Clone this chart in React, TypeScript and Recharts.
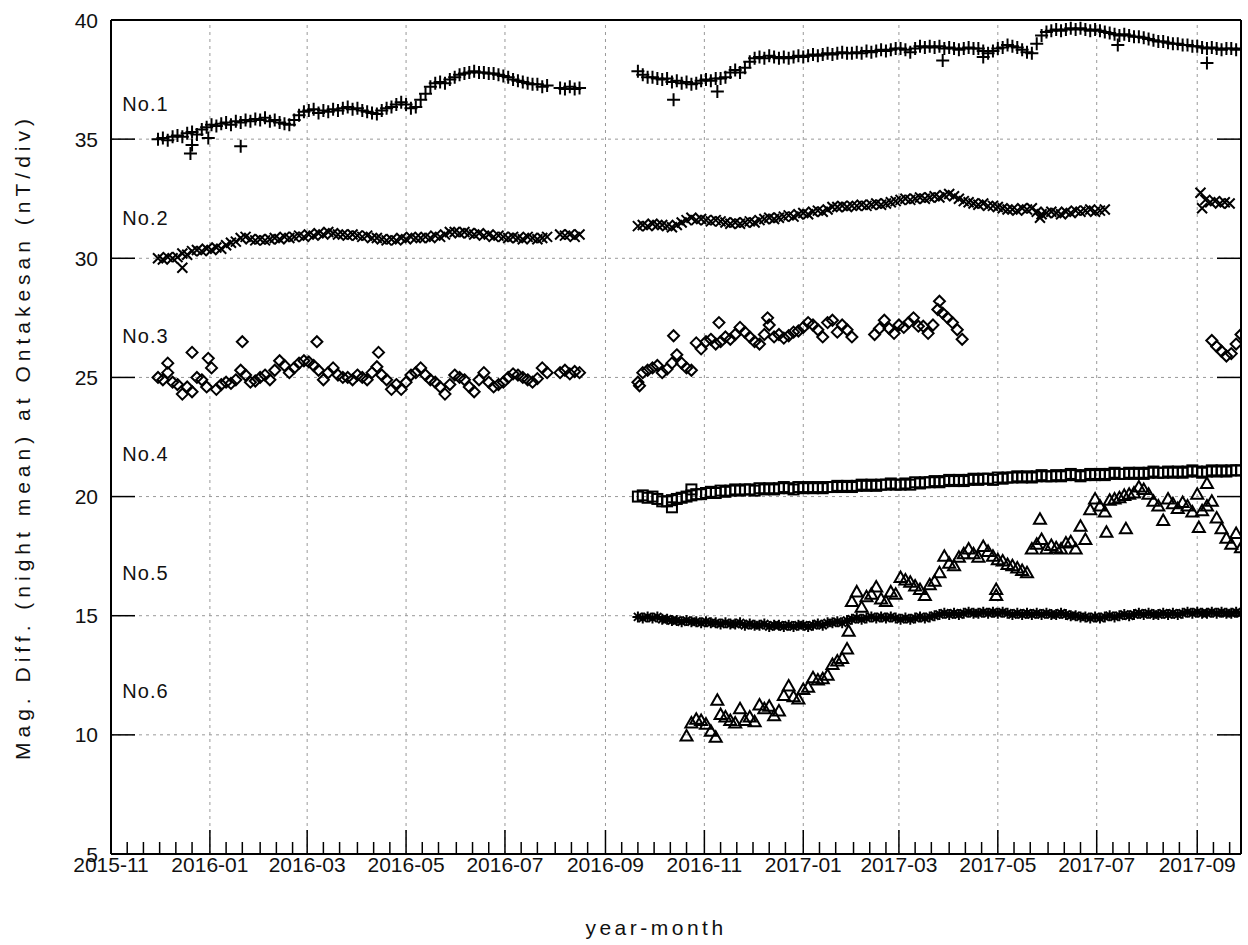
import { ScatterChart, Scatter, XAxis, YAxis, ReferenceLine, ReferenceDot } from 'recharts'

// night-mean magnetic differences, every 3 days
const EPOCH = Date.UTC(2015, 10, 1)
const dayOf = (s: string) => {
  const [y, m, d] = s.split('-').map(Number)
  return Math.round((Date.UTC(y, m - 1, d || 1) - EPOCH) / 86400000)
}
const STEP = 3
const X_END = '2017-09-28'

const xMajorLabels = ['2015-11', '2016-01', '2016-03', '2016-05', '2016-07', '2016-09', '2016-11', '2017-01', '2017-03', '2017-05', '2017-07', '2017-09']
const yTicks = [5, 10, 15, 20, 25, 30, 35, 40]
const yGrid = [10, 15, 20, 25, 30, 35]

const seriesLabels = ['No.1', 'No.2', 'No.3', 'No.4', 'No.5', 'No.6']
const seriesLabelY = [36.5, 31.7, 26.75, 21.8, 16.8, 11.85]
const LABEL_DATE = '2015-11-08'

// No.1
const no1a = [
  35.0, 35.05, 34.95, 35.1, 35.15, 35.1, 35.25, 35.3, 35.2, 35.4,
  35.5, 35.6, 35.55, 35.65, 35.7, 35.6, 35.75, 35.7, 35.8, 35.75,
  35.85, 35.8, 35.9, 35.75, 35.8, 35.7, 35.65, 35.6, 35.8, 36.0,
  36.15, 36.2, 36.25, 36.1, 36.2, 36.15, 36.25, 36.2, 36.3, 36.35,
  36.25, 36.3, 36.2, 36.15, 36.1, 36.05, 36.2, 36.3, 36.35, 36.45,
  36.55, 36.45, 36.3, 36.35, 36.65, 36.9, 37.2, 37.35, 37.4, 37.35,
  37.5, 37.6, 37.7, 37.75, 37.8, 37.85, 37.8, 37.8, 37.75, 37.75,
  37.7, 37.65, 37.6, 37.5, 37.45, 37.4, 37.35, 37.3, 37.3, 37.2,
  37.25,
]
const no1b = [37.15, 37.1, 37.2, 37.1, 37.15]
const no1c = [
  37.85, 37.7, 37.6, 37.6, 37.55, 37.5, 37.55, 37.4, 37.45, 37.35,
  37.4, 37.3, 37.35, 37.45, 37.5, 37.45, 37.55, 37.55, 37.6, 37.8,
  37.9, 37.8, 38.0, 38.25, 38.4, 38.45, 38.4, 38.5, 38.45, 38.4,
  38.45, 38.4, 38.45, 38.5, 38.45, 38.5, 38.55, 38.5, 38.55, 38.6,
  38.55, 38.6, 38.65, 38.6, 38.6, 38.65, 38.6, 38.7, 38.65, 38.7,
  38.75, 38.7, 38.75, 38.8, 38.8, 38.75, 38.65, 38.8, 38.9, 38.85,
  38.9, 38.85, 38.9, 38.8, 38.85, 38.8, 38.75, 38.8, 38.85, 38.8,
  38.8, 38.7, 38.6, 38.7, 38.8, 38.85, 38.95, 38.9, 38.85, 38.75,
  38.65, 38.6, 39.0, 39.35, 39.5, 39.55, 39.6, 39.55, 39.6, 39.65,
  39.6, 39.65, 39.6, 39.55, 39.6, 39.55, 39.5, 39.45, 39.4, 39.35,
  39.4, 39.35, 39.3, 39.3, 39.25, 39.2, 39.15, 39.1, 39.1, 39.05,
  39.0, 39.0, 38.95, 38.95, 38.9, 38.9, 38.85, 38.8, 38.85, 38.8,
  38.75, 38.8, 38.8, 38.75, 38.8,
]
const no1Out: [string, number][] = [
  ['2015-12-20', 34.4], ['2015-12-21', 34.75], ['2015-12-31', 35.05], ['2016-01-20', 34.7],
  ['2016-10-13', 36.65], ['2016-11-09', 37.0], ['2017-03-28', 38.3], ['2017-04-22', 38.45],
  ['2017-07-14', 38.95], ['2017-09-07', 38.2],
]

// No.2
const no2a = [
  30.0, 29.95, 30.05, 30.0, 30.05, 30.2, 30.15, 30.3, 30.35, 30.3,
  30.4, 30.35, 30.45, 30.4, 30.55, 30.65, 30.7, 30.85, 30.9, 30.8,
  30.75, 30.8, 30.75, 30.8, 30.85, 30.8, 30.9, 30.85, 30.9, 30.95,
  30.9, 31.0, 30.95, 31.05, 31.0, 31.1, 31.05, 31.0, 31.0, 30.95,
  31.0, 30.95, 30.9, 30.95, 30.85, 30.85, 30.8, 30.75, 30.8, 30.75,
  30.85, 30.8, 30.9, 30.85, 30.85, 30.9, 30.85, 30.95, 30.9, 31.0,
  31.1, 31.1, 31.05, 31.1, 31.05, 31.0, 31.05, 30.95, 31.0, 30.9,
  30.95, 30.9, 30.85, 30.9, 30.85, 30.8, 30.9, 30.85, 30.8, 30.85,
  30.9,
]
const no2b = [31.0, 30.95, 31.0, 30.9, 31.0]
const no2c = [
  31.35, 31.4, 31.35, 31.45, 31.4, 31.4, 31.35, 31.3, 31.4, 31.5,
  31.6, 31.7, 31.6, 31.65, 31.6, 31.55, 31.6, 31.55, 31.5, 31.45,
  31.5, 31.45, 31.5, 31.55, 31.5, 31.6, 31.65, 31.7, 31.65, 31.7,
  31.75, 31.8, 31.75, 31.85, 31.9, 31.85, 31.95, 32.0, 31.95, 32.05,
  32.15, 32.15, 32.2, 32.15, 32.2, 32.2, 32.25, 32.2, 32.25, 32.3,
  32.25, 32.3, 32.35, 32.4, 32.45, 32.5, 32.45, 32.5, 32.55, 32.5,
  32.55, 32.6, 32.55, 32.65, 32.7, 32.6, 32.5, 32.4, 32.35, 32.3,
  32.25, 32.3, 32.2, 32.2, 32.15, 32.1, 32.05, 32.05, 32.0, 32.1,
  32.05, 32.1, 31.95, 31.85, 31.9, 31.95, 31.9, 31.85, 31.95, 31.9,
  32.0, 31.95, 32.0, 32.05, 31.95, 32.0, 32.05,
]
const no2d = [32.75, 32.45, 32.35, 32.4, 32.3, 32.35, 32.3]
const no2Out: [string, number][] = [['2015-12-15', 29.6], ['2017-05-27', 31.7], ['2017-09-04', 32.1]]

// No.3
const no3a = [
  25.0, 24.9, 25.2, 24.8, 24.7, 24.3, 24.6, 24.4, 25.0, 24.9,
  24.6, 25.4, 24.5, 24.7, 24.8, 24.75, 24.9, 25.3, 25.1, 24.8,
  24.85, 25.0, 25.1, 24.9, 25.3, 25.7, 25.5, 25.2, 25.4, 25.6,
  25.7, 25.65, 25.5, 25.3, 24.9, 25.2, 25.4, 25.1, 25.0, 25.0,
  24.9, 25.1, 25.0, 24.9, 25.2, 25.45, 25.1, 24.9, 24.5, 24.7,
  24.5, 24.8, 25.1, 25.2, 25.4, 25.1, 24.9, 24.8, 24.6, 24.3,
  24.7, 25.1, 25.0, 24.9, 24.6, 24.4, 24.9, 25.2, 24.8, 24.6,
  24.7, 24.8, 25.0, 25.15, 25.1, 25.0, 24.9, 24.8, 24.95, 25.4,
  25.2,
]
const no3b = [25.2, 25.3, 25.15, 25.25, 25.2]
const no3c = [
  24.8, 25.2, 25.3, 25.4, 25.5, 25.2, 25.35, 25.6, 25.95, 25.6,
  25.4, 25.3, 26.45, 26.2, 26.5, 26.6, 26.4, 26.5, 26.7, 26.6,
  26.8, 27.1, 26.9, 26.7, 26.5, 26.4, 26.8, 27.2, 26.7, 26.8,
  26.65, 26.75, 26.9, 26.95, 27.1, 27.3, 27.2, 27.0, 26.7, 27.3,
  27.4, 26.9, 27.2, 27.0, 26.7,
]
const no3d = [26.8, 27.05, 27.4, 27.05, 26.85, 27.2, 27.1, 27.3, 27.5, 27.15, 27.15, 26.85, 27.2, 27.85, 27.7, 27.5, 27.3, 27.0, 26.6]
const no3e = [26.55, 26.3, 26.1, 25.9, 26.0, 26.4, 26.8]
const no3Out: [string, number][] = [
  ['2015-12-06', 25.6], ['2015-12-21', 26.05], ['2015-12-31', 25.8], ['2016-01-21', 26.5],
  ['2016-03-07', 26.5], ['2016-04-14', 26.05], ['2016-09-22', 24.65], ['2016-10-13', 26.75],
  ['2016-11-10', 27.3], ['2016-12-10', 27.5], ['2017-03-26', 28.2],
]

// No.4
const no4 = [
  20.0, 20.05, 19.95, 20.0, 19.9, 19.8, 19.8, 19.85, 19.9, 19.95,
  20.0, 20.05, 20.1, 20.1, 20.15, 20.2, 20.15, 20.25, 20.2, 20.25,
  20.3, 20.25, 20.3, 20.3, 20.25, 20.35, 20.3, 20.35, 20.3, 20.35,
  20.4, 20.35, 20.3, 20.4, 20.35, 20.4, 20.35, 20.4, 20.35, 20.4,
  20.4, 20.45, 20.4, 20.45, 20.4, 20.45, 20.5, 20.45, 20.5, 20.45,
  20.5, 20.5, 20.55, 20.5, 20.5, 20.55, 20.5, 20.6, 20.55, 20.6,
  20.6, 20.65, 20.6, 20.65, 20.7, 20.65, 20.7, 20.65, 20.7, 20.75,
  20.7, 20.75, 20.75, 20.7, 20.8, 20.75, 20.8, 20.8, 20.85, 20.8,
  20.85, 20.8, 20.85, 20.9, 20.85, 20.85, 20.9, 20.85, 20.9, 20.95,
  20.9, 20.85, 20.9, 20.95, 20.9, 20.95, 20.9, 20.95, 21.0, 20.95,
  20.95, 21.0, 20.95, 21.0, 20.95, 21.0, 21.05, 21.0, 21.0, 21.05,
  21.0, 21.05, 21.0, 21.05, 21.1, 21.05, 21.0, 21.05, 21.1, 21.05,
  21.1, 21.05, 21.1, 21.1, 21.1,
]
const no4Out: [string, number][] = [['2016-10-12', 19.55], ['2016-10-24', 20.3]]

// No.5
const no5 = [
  14.95, 14.9, 14.95, 14.9, 14.95, 14.85, 14.85, 14.8, 14.8, 14.75,
  14.8, 14.75, 14.75, 14.7, 14.75, 14.7, 14.7, 14.65, 14.7, 14.65,
  14.65, 14.7, 14.6, 14.65, 14.6, 14.6, 14.65, 14.55, 14.6, 14.6,
  14.55, 14.6, 14.55, 14.6, 14.6, 14.55, 14.6, 14.65, 14.6, 14.7,
  14.7, 14.75, 14.7, 14.8, 14.85, 14.9, 14.85, 14.9, 14.95, 14.9,
  14.95, 14.9, 14.95, 14.9, 14.85, 14.9, 14.85, 14.9, 14.95, 14.9,
  14.95, 15.0, 15.05, 15.1, 15.05, 15.1, 15.05, 15.1, 15.15, 15.1,
  15.1, 15.15, 15.1, 15.15, 15.1, 15.15, 15.1, 15.05, 15.1, 15.05,
  15.1, 15.05, 15.1, 15.05, 15.1, 15.05, 15.05, 15.1, 15.05, 15.0,
  15.0, 14.95, 14.95, 14.9, 14.95, 14.9, 14.95, 15.0, 14.95, 15.0,
  15.05, 15.0, 15.05, 15.1, 15.05, 15.1, 15.05, 15.05, 15.1, 15.05,
  15.1, 15.05, 15.1, 15.15, 15.1, 15.15, 15.1, 15.1, 15.15, 15.1,
  15.15, 15.1, 15.1, 15.15, 15.1,
]

// No.6
const no6 = [
  9.95, 10.5, 10.65, 10.6, 10.45, 10.15, 9.9, 10.85, 10.75, 10.6,
  10.5, 11.1, 10.6, 10.75, 10.55, 11.25, 11.1, 11.2, 10.8, 11.0,
  11.65, 12.05, 11.6, 11.5, 11.9, 12.0, 12.4, 12.3, 12.35, 12.5,
  12.95, 13.1, 13.2, 13.6, 15.6, 16.0, 15.35, 15.8, 15.9, 16.2,
  15.7, 15.6, 16.0, 15.9, 16.6, 16.5, 16.4, 16.25, 16.1, 15.85,
  16.3, 16.45, 16.8, 17.5, 17.2, 17.1, 17.45, 17.6, 17.8, 17.6,
  17.45, 17.9, 17.7, 17.5, 17.35, 17.3, 17.15, 17.1, 17.0, 16.9,
  16.8, 17.8, 18.0, 18.2, 17.8, 17.95, 17.85, 17.8, 18.05, 18.1,
  17.8, 18.75, 18.2, 19.45, 19.9, 19.6, 19.35, 19.85, 19.9, 19.95,
  20.05, 20.1, 20.15, 20.4, 20.3, 20.1, 19.8, 19.6, 19.0, 19.9,
  19.7, 19.5, 19.75, 19.6, 19.35, 20.1, 19.4, 19.6, 19.8, 19.1,
  18.65, 18.25, 18.0, 18.45, 17.85,
]
const no6Out: [string, number][] = [
  ['2016-11-09', 11.45], ['2017-01-29', 14.35], ['2017-04-30', 16.1], ['2017-04-30', 15.85],
  ['2017-05-27', 19.05], ['2017-07-07', 18.5], ['2017-07-19', 18.65], ['2017-09-02', 18.7],
  ['2017-09-07', 20.55],
]

type Seg = [string, number[]]
type Pt = { t: number; v: number }

function build(segs: Seg[], outliers: [string, number][] = []): Pt[] {
  const pts: Pt[] = []
  segs.forEach(([start, vals]) => {
    const d0 = dayOf(start)
    vals.forEach((v, i) => pts.push({ t: d0 + i * STEP, v }))
  })
  outliers.forEach(([d, v]) => pts.push({ t: dayOf(d), v }))
  return pts
}

const data1 = build([['2015-11-30', no1a], ['2016-08-04', no1b], ['2016-09-21', no1c]], no1Out)
const data2 = build([['2015-11-30', no2a], ['2016-08-04', no2b], ['2016-09-21', no2c], ['2017-09-03', no2d]], no2Out)
const data3 = build([['2015-11-30', no3a], ['2016-08-04', no3b], ['2016-09-21', no3c], ['2017-02-14', no3d], ['2017-09-10', no3e]], no3Out)
const data4 = build([['2016-09-21', no4]], no4Out)
const data5 = build([['2016-09-21', no5]])
const data6 = build([['2016-10-21', no6]], no6Out)

const xEnd = dayOf(X_END)
const majorByDay = new Map(xMajorLabels.map(m => [dayOf(m), m]))

// major ticks every 2 months, minor ticks on the 1st/11th/21st
const xTicks: number[] = []
for (let y = 2015, m = 11; y * 12 + m <= 2017 * 12 + 9; m === 12 ? (y++, (m = 1)) : m++) {
  for (const d of [1, 11, 21]) {
    const t = dayOf(`${y}-${m}-${d}`)
    if (t <= xEnd) xTicks.push(t)
  }
}

const FONT = '"Liberation Sans", Arial, sans-serif'
const TXT = '#111'
const MAJOR = 24
const MINOR = 12

function BottomTick({ x, y, payload }: any) {
  const label = majorByDay.get(payload.value)
  return (
    <g>
      <line x1={x} y1={y} x2={x} y2={y - (label ? MAJOR : MINOR)} stroke="#000" strokeWidth={1.5} />
      {label && (
        <text x={x} y={y + 18} textAnchor="middle" fontFamily={FONT} fontSize={21} fill={TXT}>
          {label}
        </text>
      )}
    </g>
  )
}

function TopTick({ x, y, payload }: any) {
  const major = majorByDay.has(payload.value)
  return <line x1={x} y1={y} x2={x} y2={y + (major ? MAJOR : MINOR)} stroke="#000" strokeWidth={1.5} />
}

function LeftTick({ x, y, payload }: any) {
  return (
    <g>
      <line x1={x} y1={y} x2={x + MAJOR} y2={y} stroke="#000" strokeWidth={1.5} />
      <text x={x - 13} y={y} dy="0.36em" textAnchor="end" fontFamily={FONT} fontSize={21} fill={TXT}>
        {payload.value}
      </text>
    </g>
  )
}

function RightTick({ x, y }: any) {
  return <line x1={x} y1={y} x2={x - MAJOR} y2={y} stroke="#000" strokeWidth={1.5} />
}

function XTitle({ viewBox }: any) {
  return (
    <text x={viewBox.x + viewBox.width / 2 - 20} y={viewBox.y + 81} textAnchor="middle" fontFamily={FONT} fontSize={21} letterSpacing={3.5} fill={TXT}>
      year-month
    </text>
  )
}

function YTitle({ viewBox }: any) {
  const cx = viewBox.x + 22
  const cy = viewBox.y + viewBox.height / 2
  return (
    <text x={cx} y={cy} transform={`rotate(-90 ${cx} ${cy})`} textAnchor="middle" dominantBaseline="central" fontFamily={FONT} fontSize={21} letterSpacing={5} fill={TXT}>
      Mag. Diff. (night mean) at Ontakesan (nT/div)
    </text>
  )
}

const ink = { stroke: '#000', strokeWidth: 2, fill: 'none' }
const Plus = ({ cx, cy }: any) => <path d={`M${cx - 6.5} ${cy}H${cx + 6.5}M${cx} ${cy - 6.5}V${cy + 6.5}`} {...ink} />
const Cross = ({ cx, cy }: any) => (
  <path d={`M${cx - 5} ${cy - 5}L${cx + 5} ${cy + 5}M${cx - 5} ${cy + 5}L${cx + 5} ${cy - 5}`} {...ink} />
)
const Diamond = ({ cx, cy }: any) => <path d={`M${cx} ${cy - 5.5}L${cx + 5.5} ${cy}L${cx} ${cy + 5.5}L${cx - 5.5} ${cy}Z`} {...ink} />
const Square = ({ cx, cy }: any) => <rect x={cx - 5} y={cy - 5} width={10} height={10} {...ink} />
const Star = ({ cx, cy }: any) => (
  <path
    d={`M${cx - 5.5} ${cy}H${cx + 5.5}M${cx} ${cy - 5.5}V${cy + 5.5}M${cx - 4} ${cy - 4}L${cx + 4} ${cy + 4}M${cx - 4} ${cy + 4}L${cx + 4} ${cy - 4}`}
    {...ink}
  />
)
const Triangle = ({ cx, cy }: any) => <path d={`M${cx} ${cy - 6}L${cx + 6} ${cy + 4.5}L${cx - 6} ${cy + 4.5}Z`} {...ink} />

const grid = { stroke: '#999', strokeDasharray: '3 4', strokeWidth: 1 }
const border = { stroke: '#000', strokeWidth: 2 }

export default function App() {
  return (
    <div style={{ position: 'absolute', left: 0, top: 0, width: 1248, height: 945, background: '#fff' }}>
      <ScatterChart width={1248} height={945} margin={{ top: 0, right: 0, bottom: 0, left: 0 }}>
        <XAxis
          type="number"
          dataKey="t"
          domain={[0, xEnd]}
          allowDataOverflow
          ticks={xTicks}
          interval={0}
          tickSize={0}
          tickMargin={0}
          height={91}
          tickLine={false}
          axisLine={border}
          tick={<BottomTick />}
          label={<XTitle />}
        />
        <XAxis
          xAxisId="top"
          orientation="top"
          type="number"
          domain={[0, xEnd]}
          allowDataOverflow
          ticks={xTicks}
          interval={0}
          tickSize={0}
          tickMargin={0}
          height={20}
          tickLine={false}
          axisLine={border}
          tick={<TopTick />}
        />
        <YAxis
          type="number"
          dataKey="v"
          domain={[5, 40]}
          allowDataOverflow
          ticks={yTicks}
          interval={0}
          tickSize={0}
          tickMargin={0}
          width={111}
          tickLine={false}
          axisLine={border}
          tick={<LeftTick />}
          label={<YTitle />}
        />
        <YAxis
          yAxisId="right"
          orientation="right"
          type="number"
          domain={[5, 40]}
          allowDataOverflow
          ticks={yTicks}
          interval={0}
          tickSize={0}
          tickMargin={0}
          width={7}
          tickLine={false}
          axisLine={border}
          tick={<RightTick />}
        />
        {xMajorLabels.slice(1).map(m => (
          <ReferenceLine key={m} x={dayOf(m)} {...grid} />
        ))}
        {yGrid.map(v => (
          <ReferenceLine key={v} y={v} {...grid} />
        ))}
        {seriesLabels.map((s, i) => (
          <ReferenceDot
            key={s}
            x={dayOf(LABEL_DATE)}
            y={seriesLabelY[i]}
            r={0}
            shape={(p: any) => (
              <text x={p.cx} y={p.cy} dy="0.36em" fontFamily={FONT} fontSize={20} letterSpacing={1} fill={TXT}>
                {s}
              </text>
            )}
          />
        ))}
        <Scatter data={data1} shape={<Plus />} isAnimationActive={false} />
        <Scatter data={data2} shape={<Cross />} isAnimationActive={false} />
        <Scatter data={data3} shape={<Diamond />} isAnimationActive={false} />
        <Scatter data={data4} shape={<Square />} isAnimationActive={false} />
        <Scatter data={data5} shape={<Star />} isAnimationActive={false} />
        <Scatter data={data6} shape={<Triangle />} isAnimationActive={false} />
      </ScatterChart>
    </div>
  )
}
